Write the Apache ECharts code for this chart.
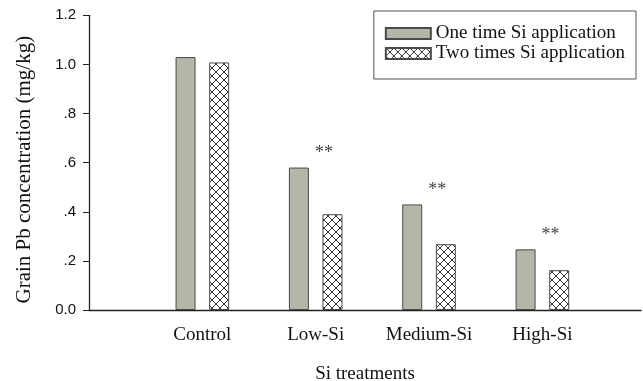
<!DOCTYPE html>
<html>
<head>
<meta charset="utf-8">
<script src="https://cdn.jsdelivr.net/npm/echarts@6/dist/echarts.min.js"></script>
<style>html,body{margin:0;padding:0;background:#fff;}#c{width:643px;height:381px;}</style>
</head>
<body>
<div id="c"></div>
<script>
var categories = ['Control', 'Low-Si', 'Medium-Si', 'High-Si'];
var oneTime = [1.03, 0.58, 0.43, 0.247];
var twoTimes = [1.008, 0.39, 0.268, 0.162];
var significance = ['', '**', '**', '**'];
var yTickLabels = ['0.0', '.2', '.4', '.6', '.8', '1.0', '1.2'];
var seriesNames = ['One time Si application', 'Two times Si application'];

var serif = "'Liberation Serif', 'Times New Roman', serif";
var sans = "'Liberation Sans', Arial, sans-serif";

function hatch() {
  var c = document.createElement('canvas');
  c.width = 8; c.height = 8;
  var g = c.getContext('2d');
  g.fillStyle = '#ffffff';
  g.fillRect(0, 0, 8, 8);
  g.strokeStyle = '#333333';
  g.lineWidth = 1;
  g.beginPath();
  g.moveTo(0, 0); g.lineTo(8, 8);
  g.moveTo(8, 0); g.lineTo(0, 8);
  g.stroke();
  return c;
}

var oneData = oneTime.map(function (v, i) { return [i + 1, v]; });
var twoData = twoTimes.map(function (v, i) { return [i + 1, v]; });

var chart = echarts.init(document.getElementById('c'));
chart.setOption({
  animation: false,
  backgroundColor: '#ffffff',
  grid: { left: 89, right: 2, top: 15.3, bottom: 71, containLabel: false, outerBoundsMode: 'none' },
  legend: {
    orient: 'vertical',
    right: 7,
    top: 11,
    icon: 'rect',
    itemWidth: 45,
    itemHeight: 11,
    itemGap: 1,
    itemTextGap: 10,
    padding: [13, 11, 16, 11],
    borderColor: '#555555',
    borderWidth: 1,
    textStyle: { fontFamily: serif, fontSize: 19, color: '#111', lineHeight: 19 },
    data: seriesNames
  },
  xAxis: {
    type: 'value',
    min: 0,
    max: 4.87,
    interval: 1,
    splitLine: { show: false },
    axisTick: { show: false },
    axisLine: { lineStyle: { color: '#222', width: 1.3 } },
    axisLabel: {
      margin: 16,
      fontFamily: serif,
      fontSize: 19,
      color: '#111',
      showMaxLabel: false,
      formatter: function (v) {
        var i = Math.round(v) - 1;
        return (Math.abs(v - Math.round(v)) < 1e-6 && categories[i]) ? categories[i] : '';
      }
    },
    name: 'Si treatments',
    nameLocation: 'middle',
    nameGap: 55,
    nameTextStyle: { fontFamily: serif, fontSize: 19, color: '#111' }
  },
  yAxis: {
    type: 'value',
    min: 0,
    max: 1.2,
    interval: 0.2,
    splitLine: { show: false },
    axisTick: { show: true, length: 6, lineStyle: { color: '#222' } },
    axisLine: { show: true, lineStyle: { color: '#222', width: 1.3 } },
    axisLabel: {
      margin: 13,
      fontFamily: sans,
      fontSize: 15,
      color: '#111',
      formatter: function (v) { return yTickLabels[Math.round(v / 0.2)]; }
    },
    name: 'Grain Pb concentration (mg/kg)',
    nameLocation: 'middle',
    nameRotate: 90,
    nameGap: 54,
    nameTextStyle: { fontFamily: serif, fontSize: 21, color: '#111', padding: [0, 14, 0, 0] }
  },
  series: [
    {
      name: seriesNames[0],
      type: 'bar',
      data: oneData,
      barWidth: 20,
      barGap: '68%',
      itemStyle: { color: '#b5b5a8', borderColor: '#4a4a4a', borderWidth: 1 },
      label: {
        show: true,
        position: 'top',
        offset: [25, 0],
        fontFamily: serif,
        fontSize: 18,
        color: '#444',
        formatter: function (p) { return significance[p.dataIndex]; }
      }
    },
    {
      name: seriesNames[1],
      type: 'bar',
      data: twoData,
      barWidth: 20,
      barGap: '68%',
      itemStyle: { color: { image: hatch(), repeat: 'repeat' }, borderColor: '#4a4a4a', borderWidth: 1 }
    }
  ]
});
</script>
</body>
</html>
